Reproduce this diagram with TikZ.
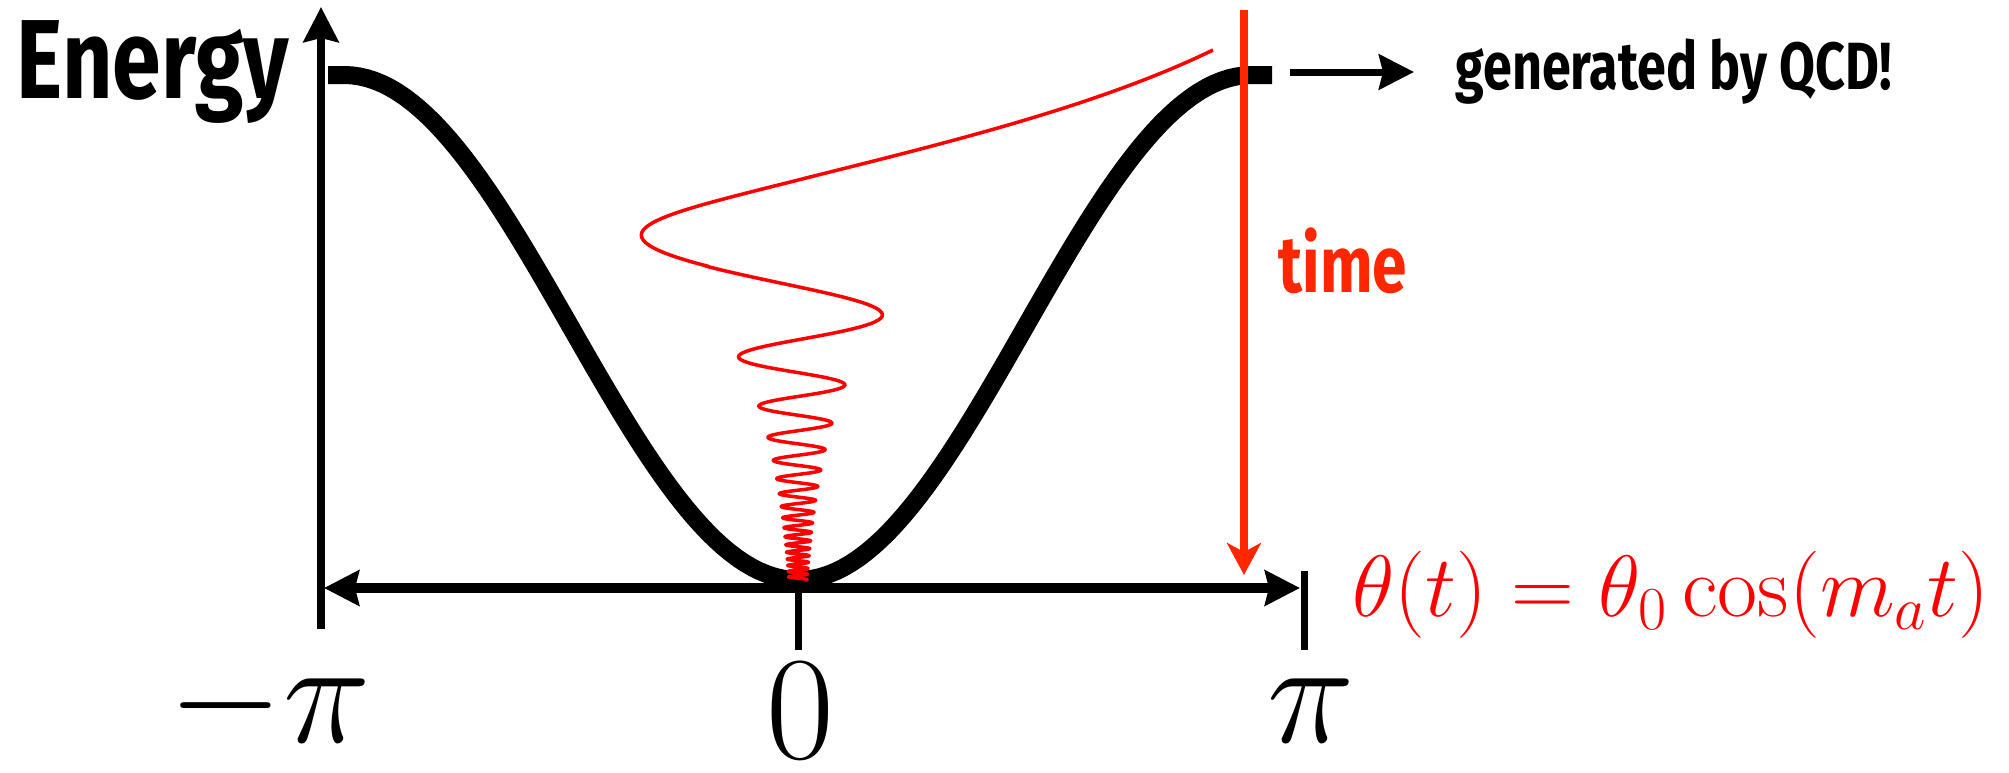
\RequirePackage{fix-cm}
\documentclass[tikz,border=0pt]{standalone}
\usepackage{fontspec}
\usetikzlibrary{arrows.meta}
\newfontfamily\condfont[FakeStretch=0.78]{Fira Sans}
\definecolor{timered}{RGB}{255,38,0}

\begin{document}
\begin{tikzpicture}[
x=0.1mm, y=-0.1mm,
>={Stealth[length=3.5mm,width=3.5mm,inset=0.4mm]},
axis/.style={line width=0.75mm},
haxis/.style={line width=1mm},
tick/.style={line width=0.7mm},
potential/.style={line width=1.8mm},
wiggle/.style={red, line width=0.35mm},
timearrow/.style={timered, line width=0.8mm,
  -{Stealth[length=3.2mm,width=3.4mm,inset=0.9mm]}},
label/.style={inner sep=0, anchor=base, font=\fontsize{42}{50}\selectfont},
title/.style={inner sep=0, anchor=base west, font=\condfont\bfseries}
]
\useasboundingbox (0,0) rectangle (2009,773);

% points on the axes
\coordinate (Ltop) at (321,7);
\coordinate (Lbot) at (321,629);
\coordinate (Ltip) at (324,588);
\coordinate (Rtip) at (1300,588);
\coordinate (Rtop) at (1304,571);
\coordinate (Rbot) at (1304,650);
\coordinate (O) at (798,588);
\coordinate (Obot) at (798,650);

% potential
\draw[potential] (328,75) -- (344,75)
  -- plot[domain=-1:1, samples=121, variable=\u]
     ({798+454*\u}, {580-505*(1-cos(180*\u))/2})
  -- (1272,75);

% axes
\draw[axis, ->] (Lbot) -- (Ltop);
\draw[haxis, <->] (Ltip) -- (Rtip);
\draw[tick] (Rtop) -- (Rbot);
\draw[tick] (O) -- (Obot);

% oscillation
\draw[wiggle] (1213,50) .. controls (1100,105) and (950,142) .. (818,175)
  .. controls (665,214) and (571,231) .. (707,266)
  -- plot[domain=0.25:33.2, samples=900, variable=\s]
     ({798-125*cos(180*\s)/(\s+0.71)^0.75}, {270+88*ln(\s+0.71)});

% time
\coordinate (Tstart) at (1244,10);
\coordinate (Tend) at (1244,575);
\draw[timearrow] (Tstart) -- (Tend);
\node[title, text=timered, font=\condfont\bfseries\fontsize{22.7}{27}\selectfont] (time) at (1278,292) {time};

% labels
\node[title, font=\condfont\bfseries\fontsize{32}{38}\selectfont] (energy) at (16,98) {Energy};
\node[title, font=\condfont\bfseries\fontsize{19}{23}\selectfont] (qcd) at (1455,89) {generated by QCD!};
\coordinate (Qstart) at (1290,72);
\coordinate (Qend) at (1414,72);
\draw[line width=0.7mm, ->] (Qstart) -- (Qend);

\node[label] (mpi) at (270,742) {$-\pi$};
\node[label] (zero) at (800,758) {$0$};
\node[label] (pi) at (1311,742) {$\pi$};
\node[inner sep=0, anchor=west, text=red, font=\fontsize{24.8}{30}\selectfont] (eq) at (1352,595)
  {$\theta(t) = \theta_0\cos(m_a t)$};

\end{tikzpicture}
\end{document}
